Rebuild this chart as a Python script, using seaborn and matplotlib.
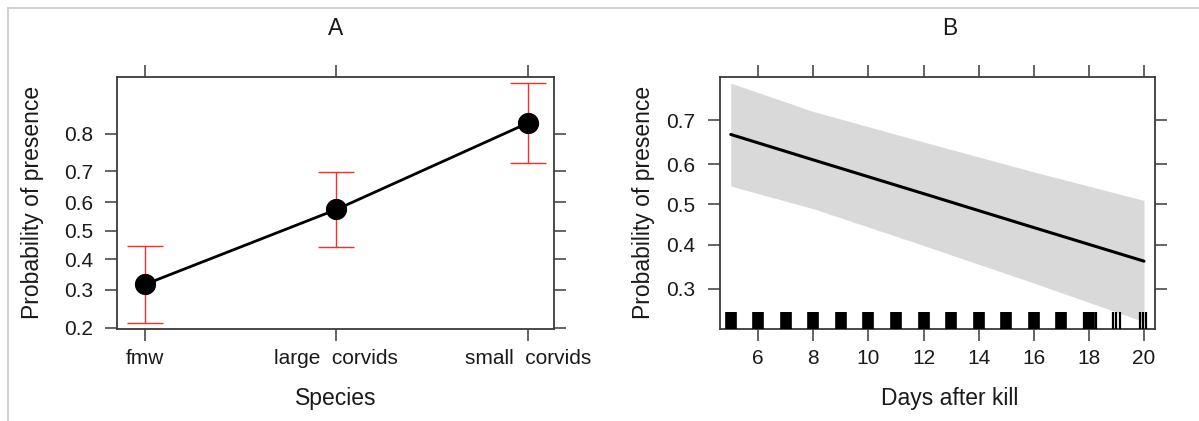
import numpy as np
import matplotlib
matplotlib.use("Agg")
import matplotlib.pyplot as plt
from matplotlib.lines import Line2D
from matplotlib.ticker import FormatStrFormatter, NullLocator
import seaborn as sns

# Panel A: effect of species (probability of presence, 95% CI)
species = ["fmw", "large  corvids", "small  corvids"]
species_prob = [0.317, 0.575, 0.823]
species_lower = [0.212, 0.441, 0.725]
species_upper = [0.445, 0.698, 0.892]

# Panel B: effect of days after kill (fit and confidence band)
days_fit = [5, 8, 12, 16, 20]
days_prob = [0.669, 0.610, 0.527, 0.442, 0.361]
days_lower = [0.546, 0.489, 0.398, 0.312, 0.235]
days_upper = [0.772, 0.718, 0.652, 0.581, 0.510]

# rug of observed days (dense blocks and scattered values)
rug_dense = [5, 6, 7, 8, 9, 10, 11, 12, 13, 14, 15, 16, 17, 18]
rug_sparse = [17.82, 17.95, 18.1, 18.25, 18.86, 19.0, 19.14, 19.84, 19.95, 20.08]

prob_ticks_a = [0.2, 0.3, 0.4, 0.5, 0.6, 0.7, 0.8]
prob_ticks_b = [0.3, 0.4, 0.5, 0.6, 0.7]
day_ticks = [6, 8, 10, 12, 14, 16, 18, 20]

sns.set_style("white")
plt.rcParams["font.family"] = ["Liberation Sans", "DejaVu Sans"]
plt.rcParams["text.color"] = "#1a1a1a"
plt.rcParams["axes.labelcolor"] = "#1a1a1a"

frame_col = "#3a3a3a"

fig = plt.figure(figsize=(11.99, 4.21), dpi=100)
ax_a = fig.add_axes([0.0978, 0.2195, 0.3641, 0.598])
ax_b = fig.add_axes([0.6005, 0.2195, 0.3628, 0.598])


def style_axes(ax):
    for sp in ax.spines.values():
        sp.set_visible(True)
        sp.set_color(frame_col)
        sp.set_linewidth(1.3)
    ax.tick_params(axis="both", which="major", direction="out", length=8.6,
                   width=1.1, color=frame_col, labelsize=15,
                   labelcolor="#1a1a1a", bottom=True, left=True,
                   top=True, right=True,
                   labeltop=False, labelright=False)
    ax.tick_params(axis="x", pad=6)
    ax.tick_params(axis="y", pad=9)
    ax.yaxis.set_minor_locator(NullLocator())
    ax.grid(False)


# ---- panel A ----
pos = np.arange(len(species))
yerr = [np.array(species_prob) - np.array(species_lower),
        np.array(species_upper) - np.array(species_prob)]
ax_a.errorbar(pos, species_prob, yerr=yerr, fmt="none", ecolor="#ff2a2a",
              elinewidth=1.0, capsize=13.3, capthick=1.0, zorder=2)
sns.lineplot(x=pos, y=species_prob, ax=ax_a, color="black", lw=2.0,
             marker="o", markersize=14.5, markeredgecolor="black", zorder=3)
ax_a.set_yscale("logit")
ax_a.set_ylim(0.198, 0.9)
ax_a.set_xlim(-0.145, 2.136)
ax_a.set_xticks(pos)
ax_a.set_xticklabels(species)
ax_a.set_yticks(prob_ticks_a)
ax_a.yaxis.set_major_formatter(FormatStrFormatter("%.1f"))
style_axes(ax_a)
ax_a.set_xlabel("Species", fontsize=16.5)
ax_a.set_ylabel("Probability of presence", fontsize=16.5)
ax_a.set_title("A", fontsize=16.5, pad=30)

# ---- panel B ----
ax_b.fill_between(days_fit, days_lower, days_upper, color="#d9d9d9", lw=0, zorder=1)
sns.lineplot(x=days_fit, y=days_prob, ax=ax_b, color="black", lw=2.2, zorder=3)
ax_b.set_yscale("logit")
ax_b.set_ylim(0.2228, 0.783)
ax_b.set_xlim(4.61, 20.4)
sns.rugplot(x=rug_dense, ax=ax_b, height=0.065, color="black", linewidth=8.4, zorder=4)
sns.rugplot(x=rug_sparse, ax=ax_b, height=0.065, color="black", linewidth=1.6, zorder=4)
ax_b.set_xticks(day_ticks)
ax_b.set_yticks(prob_ticks_b)
ax_b.yaxis.set_major_formatter(FormatStrFormatter("%.1f"))
style_axes(ax_b)
ax_b.set_xlabel("Days after kill", fontsize=16.5)
ax_b.set_ylabel("Probability of presence", fontsize=16.5)
ax_b.set_title("B", fontsize=16.5, pad=30, x=0.529)

# label positions
ax_a.yaxis.set_label_coords(-0.195, 0.5)
ax_b.yaxis.set_label_coords(-0.175, 0.5)
ax_a.xaxis.set_label_coords(0.5, -0.277)
ax_b.xaxis.set_label_coords(0.529, -0.277)
for ax in (ax_a, ax_b):
    ax.yaxis.label.set_va("center")
    ax.xaxis.label.set_va("center")

# thin grey frame of the original screenshot
fig.add_artist(Line2D([7.5 / 1199, 1], [1 - 7.5 / 421, 1 - 7.5 / 421],
                      transform=fig.transFigure, color="#c8c8c8", lw=1.2))
fig.add_artist(Line2D([7.5 / 1199, 7.5 / 1199], [0, 1 - 7.5 / 421],
                      transform=fig.transFigure, color="#c8c8c8", lw=1.2))

fig.savefig("out.png", dpi=100)
